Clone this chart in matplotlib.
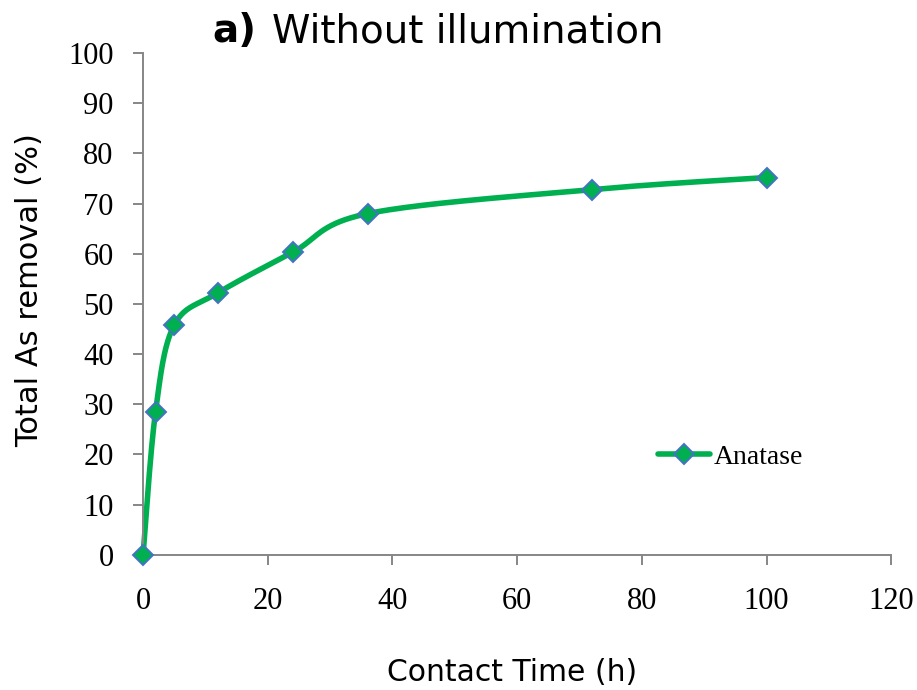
import numpy as np
import matplotlib
matplotlib.use("Agg")
import matplotlib.pyplot as plt
from matplotlib.lines import Line2D

# Contact time (h) and total arsenic removal (%)
contact_time = [0, 2, 5, 12, 24, 36, 72, 100]
removal = [0, 28.5, 45.8, 52.2, 60.3, 68.0, 72.8, 75.2]
series_name = "Anatase"
x_ticks = [0, 20, 40, 60, 80, 100, 120]
y_ticks = [0, 10, 20, 30, 40, 50, 60, 70, 80, 90, 100]

LINE_GREEN = "#00B050"
EDGE_BLUE = "#4472C4"
AXIS_GREY = "#868686"
TICK_FONT = "Liberation Serif"
LABEL_FONT = "DejaVu Sans"


def smooth_curve(xs, ys, ax, n=40):
    """Bezier smoothing through the points, computed in display space."""
    pts = ax.transData.transform(np.column_stack([xs, ys]))
    out = [pts[0]]
    m = len(pts)
    for i in range(m - 1):
        p0 = pts[i - 1] if i > 0 else pts[i]
        p1 = pts[i]
        p2 = pts[i + 1]
        p3 = pts[i + 2] if i + 2 < m else pts[i + 1]
        c1 = p1 + (p2 - p0) / 6.0
        c2 = p2 - (p3 - p1) / 6.0
        t = np.linspace(0, 1, n)[1:, None]
        seg = ((1 - t) ** 3) * p1 + 3 * ((1 - t) ** 2) * t * c1 \
            + 3 * (1 - t) * t ** 2 * c2 + t ** 3 * p2
        out.extend(seg)
    out = np.array(out)
    return ax.transData.inverted().transform(out)


fig = plt.figure(figsize=(9.17, 6.90), dpi=100)
ax = fig.add_axes([0.156, 0.196, 0.816, 0.727])
ax.set_xlim(0, 120)
ax.set_ylim(0, 100)

curve = smooth_curve(contact_time, removal, ax)
ax.plot(curve[:, 0], curve[:, 1], color=LINE_GREEN, lw=4.0,
        solid_capstyle="round", zorder=2, clip_on=False)
ax.plot(contact_time, removal, linestyle="none", marker="D", ms=10.5,
        mfc=LINE_GREEN, mec=EDGE_BLUE, mew=1.4, zorder=3, clip_on=False)

for side in ("top", "right"):
    ax.spines[side].set_visible(False)
for side in ("left", "bottom"):
    ax.spines[side].set_color(AXIS_GREY)
    ax.spines[side].set_linewidth(1.4)

ax.set_xticks(x_ticks)
ax.set_yticks(y_ticks)
ax.tick_params(axis="both", direction="out", length=7.2, width=1.4,
               color=AXIS_GREY, labelsize=22)
ax.tick_params(axis="x", pad=16)
ax.tick_params(axis="y", pad=14)
for lbl in ax.get_xticklabels() + ax.get_yticklabels():
    lbl.set_fontfamily(TICK_FONT)

ax.set_xlabel("Contact Time (h)", fontsize=21.5, family=LABEL_FONT)
ax.set_ylabel("Total As removal (%)", fontsize=22, family=LABEL_FONT)
ax.xaxis.set_label_coords(0.493, -0.205)
ax.yaxis.set_label_coords(-0.152, 0.528)
ax.yaxis.label.set_va("center")

fig.text(0.232, 0.955, "a)", fontsize=28, fontweight="bold",
         family=LABEL_FONT, ha="left", va="center")
fig.text(0.297, 0.955, "Without illumination", fontsize=28,
         family=LABEL_FONT, ha="left", va="center")

handle = Line2D([], [], color=LINE_GREEN, lw=4.0, marker="D", ms=10.5,
                mfc=LINE_GREEN, mec=EDGE_BLUE, mew=1.4, solid_capstyle="round")
ax.legend([handle], [series_name], loc="center left",
          bbox_to_anchor=(0.655, 0.195), frameon=False, handlelength=1.85,
          handletextpad=0.15, prop={"family": TICK_FONT, "size": 20})

fig.savefig("out.png", dpi=100, facecolor="white")
